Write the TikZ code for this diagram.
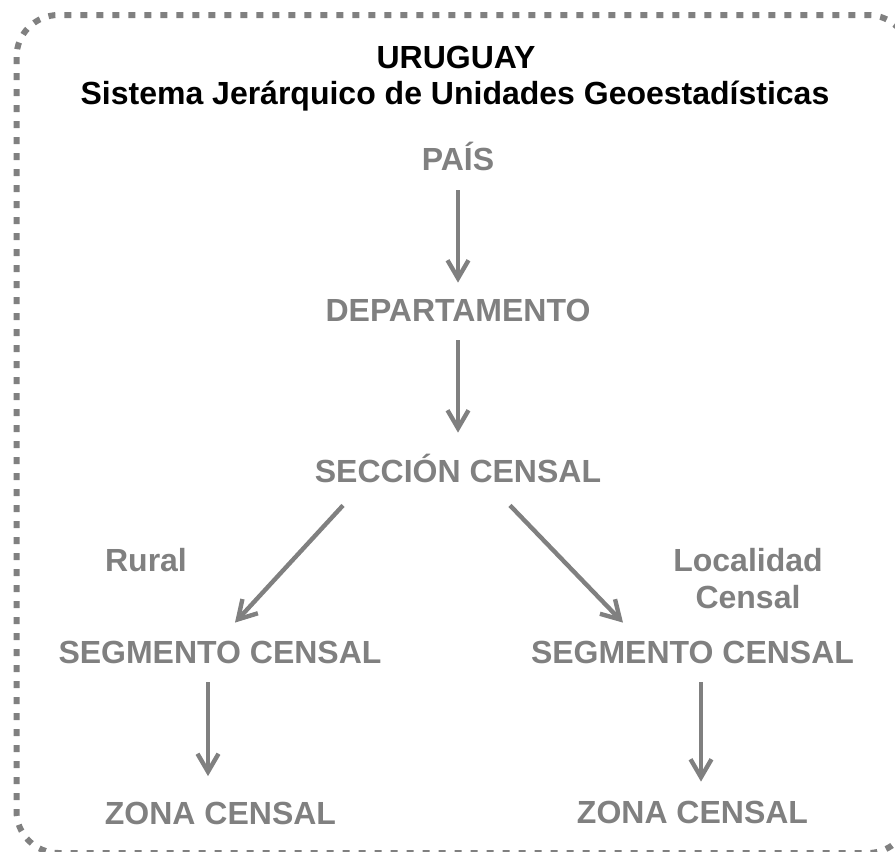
\documentclass[tikz,border=0pt]{standalone}
\usepackage{fontspec}
\setmainfont{Liberation Sans}
\usetikzlibrary{positioning,arrows.meta,calc}
\definecolor{lvlgray}{HTML}{808080}

\begin{document}
\begin{tikzpicture}[
  x=0.5pt, y=-0.5pt,
  lvl/.style={font=\fontsize{16}{18.25}\selectfont\bfseries, text=lvlgray,
    inner sep=0pt, text height=11.5pt, text depth=0pt},
  ttl/.style={lvl, text=black},
  tag/.style={font=\fontsize{16}{18.25}\selectfont\bfseries, text=lvlgray,
    inner sep=0pt, align=center},
  arr/.style={draw=lvlgray, line width=2.2pt, -{Straight Barb[length=9pt,width=10.5pt]}},
  frame/.style={draw=lvlgray, line width=3pt, dash pattern=on 3.5pt off 4.5pt,
    rounded corners=21pt},
]
\useasboundingbox (0,0) rectangle (895,852);
\clip (0,0) rectangle (895,852);
% outer frame, right side runs off the page
\draw[frame] (16.5,15) rectangle (910,853);

% title
\node[ttl] (uy) at (456,56.5) {URUGUAY};
\node[ttl] (sis) at (455,93) {Sistema Jerárquico de Unidades Geoestadísticas};

% levels
\node[lvl] (pais) at (458,158.5) {PAÍS};
\node[lvl] (dep) at (458,310) {DEPARTAMENTO};
\node[lvl] (sec) at (458,471) {SECCIÓN CENSAL};
\node[lvl] (segL) at (220,651.5) {SEGMENTO CENSAL};
\node[lvl] (segR) at (692.5,652) {SEGMENTO CENSAL};
\node[lvl] (zonL) at (220.5,813) {ZONA CENSAL};
\node[lvl] (zonR) at (692.5,811.5) {ZONA CENSAL};

% branch labels
\node[lvl] (rur) at (146,560) {Rural};
\node[tag] (loc) at (748,578.5) {Localidad\\Censal};

% links
\draw[arr] ($(pais.south)+(0,20)$) -- ($(dep.north)+(0,-15.5)$);
\draw[arr] ($(dep.south)+(0,18.5)$) -- ($(sec.north)+(0,-26.5)$);
\draw[arr] ($(sec.south)+(-115,22.5)$) -- ($(segL.north)+(15,-17)$);
\draw[arr] ($(sec.south)+(52,22.5)$) -- ($(segR.north)+(-69.5,-17.5)$);
\draw[arr] ($(segL.south)+(-12,19)$) -- ($(zonL.north)+(-12.5,-25)$);
\draw[arr] ($(segR.south)+(8.5,18.5)$) -- ($(zonR.north)+(8.5,-18)$);
\end{tikzpicture}
\end{document}
